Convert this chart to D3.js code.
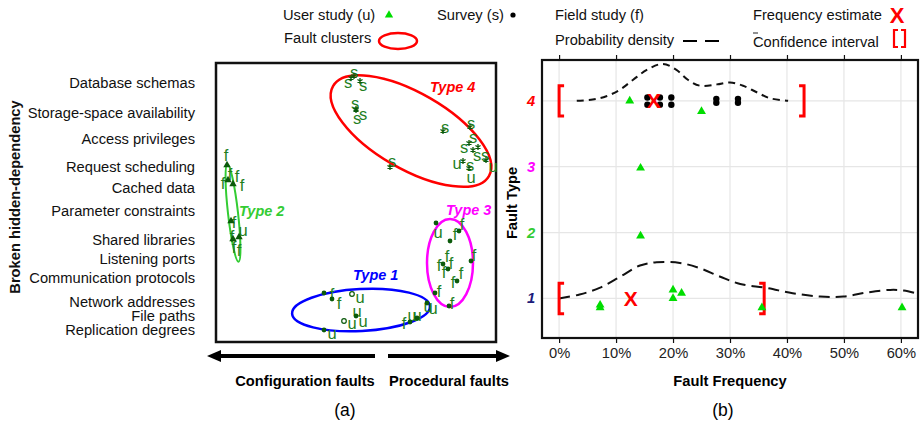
<!DOCTYPE html>
<html><head><meta charset="utf-8">
<script src="https://cdn.jsdelivr.net/npm/d3@7"></script>
<style>body{margin:0;background:#fff}svg{display:block}text{font-family:"Liberation Sans",Arial,sans-serif}</style>
</head><body><svg id="c" width="922" height="433"></svg>
<script>
// ================= DATA : panel (a) =================
const depCategories = ["Database schemas","Storage-space availability","Access privileges","Request scheduling","Cached data","Parameter constraints","Shared libraries","Listening ports","Communication protocols","Network addresses","File paths","Replication degrees"];
const depLevels = [259.3,229.3,203,174.7,153.7,131.3,102,83,63.7,40.3,26,12];

// markers of the fault map (x: configuration -> procedural, y: dependency)
const markerX = [138,135,144,140,140,227,174,254,253,257,262,247,253,270,
                 11,12,17,15,17,23,
                 220,243,234,227,232,255,241,219,233,
                 108,116,136,140,128,108,194,201,211];
const markerY = [266,264,261,232,233,211,175,215,199,192,195,181,174,182,
                 177,162,158,121,103,105,
                 119,111,101,78,73,81,61,49,36,
                 49,43,48,26,21,12,20,24,39];
const markerKind = ["star","star","star","star","star","star","star","star","star","star","star","star","star","star",
                 "tri","tri","tri","tri","tri","tri",
                 "dot","dot","dot","dot","dot","dot","dot","dot","dot",
                 "dot","dot","ring","dot","ring","dot","dot","dot","dot"];
// source letters (s = survey, u = user study, f = field study)
const letterText = ["s","s","s","s","s","s","s","s","s","s","s","s","u","s","u","s","u",
                    "f","f","f","f","f","f","u","f","f","f",
                    "u","f","f","f","f","f","f","f","f","f","f","f",
                    "f","f","u","u","u","u","u","f","u","u","u","u"];
const letterX = [138,132,147,139,141,147,229,176,255,257,248,261,241,254,255,269,277,
                 10,7,14,21,26,18,27,16,18,23,
                 222,246,239,231,223,235,228,258,245,237,223,236,
                 116,123,144,141,147,136,116,188,196,201,212,217];
const letterY = [270,260,257,239,224,228,215,181,219,205,195,187,179,177,165,187,176,
                 187,159,168,166,157,120,112,106,95,92,
                 110,118,108,86,77,79,70,87,69,60,51,39,
                 48,39,45,31,21,19,9,19,27,27,36,34];

// fault clusters
const clusterName = ["Type 4","Type 2","Type 3","Type 1"];
const clusterCX = [195,17,234,145];
const clusterCY = [211,129,79,32];
const clusterRX = [90,5,23,69];
const clusterRY = [38,49,44,21];
const clusterAngle = [30,-6.5,0,-3];
const clusterLabelX = [214,23,230,137];
const clusterLabelY = [255,131,132,67];
const clusterColor = ["#ff0000","#33cc33","#ff00ff","#0000ff"];

// ================= DATA : panel (b) =================
const freqTicks = [0,10,20,30,40,50,60];
const typeTicks = [1,2,3,4];
const typeTickColor = ["#1b1b7a","#33cc33","#ff00ff","#ff0000"];

const userFreq = [12.4,25.0,14.3,14.3,7.2,7.2,20,20,21.5,35.6,60.2];
const userType = [4.0,3.84,2.98,1.95,0.9,0.86,1.13,1.0,1.08,0.86,0.86];
const surveyFreq = [15.5,15.5,17.7,17.7,19.7,19.7,27.6,27.6,31.4,31.4];
const surveyType = [4.05,3.94,4.05,3.94,4.05,3.94,4.03,3.97,4.03,3.97];
const estimateFreq = [16.6,12.6];
const estimateType = [4,1];
const ciType = [4,1];
const ciLow = [0,0];
const ciHigh = [43,36];

const density4Freq = [3.1,5.9,8.3,10.7,13,15.4,18.2,20.6,22.6,24.7,27.7,30,32.3,34.7,37,40.2];
const density4Val  = [4.0,4.02,4.07,4.17,4.32,4.47,4.56,4.47,4.32,4.23,4.25,4.28,4.23,4.13,4.04,4.0];
const density1Freq = [0,3.6,7.1,10.7,14.2,17.1,21.2,24.7,28.3,31.8,36.4,41,45.8,49.9,54,58.1,60.5,63];
const density1Val  = [1.0,1.06,1.16,1.33,1.5,1.55,1.54,1.46,1.33,1.22,1.16,1.08,1.03,1.03,1.09,1.13,1.12,1.07];

// ================= DRAW =================
const svg = d3.select("#c");
svg.append("rect").attr("width",922).attr("height",433).attr("fill","#fff");
const FONT = '"Liberation Sans",Arial,sans-serif';
const FS = 14.7;

// ---------- panel (a)
const xL = d3.scaleLinear().domain([0,280]).range([216,496]);
const yL = d3.scaleLinear().domain([0,280]).range([342,62]);
const gA = svg.append("g");

gA.append("rect").attr("x",xL(0)).attr("y",yL(279)).attr("width",xL(280)-xL(0)).attr("height",yL(0)-yL(279))
  .attr("fill","none").attr("stroke","#111").attr("stroke-width",2.5);

gA.selectAll("text.cat").data(depCategories).join("text")
  .attr("x",195).attr("y",(d,i)=>yL(depLevels[i])).attr("text-anchor","end").attr("dominant-baseline","central")
  .attr("font-size",FS).attr("fill","#111").text(d=>d);

gA.append("text").attr("transform",`translate(15,${yL(145)}) rotate(-90)`).attr("text-anchor","middle")
  .attr("dominant-baseline","central").attr("font-size",FS).attr("font-weight","bold").attr("fill","#111").text("Broken hidden-dependency");

// clusters
clusterName.forEach((n,i)=>{
  const cx=xL(clusterCX[i]), cy=yL(clusterCY[i]);
  gA.append("ellipse").attr("cx",0).attr("cy",0)
    .attr("rx",xL(clusterCX[i]+clusterRX[i])-cx).attr("ry",cy-yL(clusterCY[i]+clusterRY[i]))
    .attr("transform",`translate(${cx},${cy}) rotate(${clusterAngle[i]})`)
    .attr("fill","none").attr("stroke",clusterColor[i]).attr("stroke-width",i===1?2:2.5);
  gA.append("text").attr("x",xL(clusterLabelX[i])).attr("y",yL(clusterLabelY[i])).attr("dominant-baseline","central")
    .attr("font-size",14.5).attr("font-weight","bold").attr("font-style","italic").attr("fill",clusterColor[i]).text(n);
});

// letters
gA.selectAll("text.let").data(letterText).join("text")
  .attr("x",(d,i)=>xL(letterX[i])).attr("y",(d,i)=>yL(letterY[i])).attr("text-anchor","middle")
  .attr("dominant-baseline","central").attr("font-size",16.5).attr("fill","#1f7f1f").text(d=>d);

// markers
const MK = "#0b5a0b";
markerKind.forEach((k,i)=>{
  const x=xL(markerX[i]), y=yL(markerY[i]);
  if(k==="dot") gA.append("circle").attr("cx",x).attr("cy",y).attr("r",2.4).attr("fill",MK);
  else if(k==="ring") gA.append("circle").attr("cx",x).attr("cy",y).attr("r",2.3).attr("fill","none").attr("stroke",MK).attr("stroke-width",1.2);
  else if(k==="tri") gA.append("path").attr("d",d3.symbol(d3.symbolTriangle,24)()).attr("transform",`translate(${x},${y})`).attr("fill",MK);
  else gA.append("path").attr("d",d3.symbol(d3.symbolAsterisk,24)()).attr("transform",`translate(${x},${y})`).attr("fill","none").attr("stroke",MK).attr("stroke-width",1.3);
});

// direction arrows
const arrowY = 356;
function arrow(x1,x2){
  const dir = Math.sign(x2-x1);
  gA.append("line").attr("x1",x1).attr("x2",x2-dir*10).attr("y1",arrowY).attr("y2",arrowY).attr("stroke","#000").attr("stroke-width",4);
  gA.append("path").attr("d",`M${x2},${arrowY} L${x2-dir*14},${arrowY-6} L${x2-dir*14},${arrowY+6} Z`).attr("fill","#000");
}
arrow(375,207); arrow(388,510);
gA.append("text").attr("x",305).attr("y",381).attr("text-anchor","middle").attr("dominant-baseline","central")
  .attr("font-size",FS).attr("font-weight","bold").text("Configuration faults");
gA.append("text").attr("x",449).attr("y",381).attr("text-anchor","middle").attr("dominant-baseline","central")
  .attr("font-size",FS).attr("font-weight","bold").text("Procedural faults");
gA.append("text").attr("x",345).attr("y",410).attr("text-anchor","middle").attr("dominant-baseline","central")
  .attr("font-family",'"Liberation Serif","Times New Roman",serif').attr("font-size",17.5).text("(a)");

// ---------- panel (b)
const xR = d3.scaleLinear().domain([-3,63]).range([542,918]);
const yR = d3.scaleLinear().domain([0.4,4.62]).range([338,60]);
const gB = svg.append("g");
const clipId="clipB";
svg.append("defs").append("clipPath").attr("id",clipId).append("rect")
  .attr("x",xR(-3)).attr("y",yR(4.62)).attr("width",xR(63)-xR(-3)).attr("height",yR(0.4)-yR(4.62));

gB.selectAll("line.vg").data(freqTicks).join("line").attr("x1",d=>xR(d)).attr("x2",d=>xR(d))
  .attr("y1",yR(4.62)).attr("y2",yR(0.4)).attr("stroke","#e6e6e6").attr("stroke-width",1.2);
gB.selectAll("line.hg").data(typeTicks).join("line").attr("y1",d=>yR(d)).attr("y2",d=>yR(d))
  .attr("x1",xR(-3)).attr("x2",xR(63)).attr("stroke","#e6e6e6").attr("stroke-width",1.2);

// axes
const axB = d3.axisBottom(xR).tickValues(freqTicks).tickFormat(d=>d+"%").tickSize(5).tickPadding(5);
const gx = gB.append("g").attr("transform",`translate(0,${yR(0.4)})`).call(axB);
gx.select(".domain").remove();
gx.selectAll("line").attr("stroke","#111").attr("stroke-width",1.2);
gx.selectAll("text").attr("font-size",FS).attr("font-family",FONT).attr("fill","#222");
const axT = d3.axisTop(xR).tickValues(freqTicks).tickFormat("").tickSize(5);
const gt = gB.append("g").attr("transform",`translate(0,${yR(4.62)})`).call(axT);
gt.select(".domain").remove();
gt.selectAll("line").attr("stroke","#111").attr("stroke-width",1.2);

gB.selectAll("text.yt").data(typeTicks).join("text").attr("x",531).attr("y",d=>yR(d)).attr("text-anchor","middle")
  .attr("dominant-baseline","central").attr("font-size",FS).attr("font-weight","bold").attr("font-style","italic")
  .attr("fill",(d,i)=>typeTickColor[i]).text(d=>d);

gB.append("text").attr("transform",`translate(512,${yR(2.45)}) rotate(-90)`).attr("text-anchor","middle")
  .attr("dominant-baseline","central").attr("font-size",FS).attr("font-weight","bold").text("Fault Type");
gB.append("text").attr("x",xR(30)).attr("y",381).attr("text-anchor","middle").attr("dominant-baseline","central")
  .attr("font-size",FS).attr("font-weight","bold").text("Fault Frequency");
gB.append("text").attr("x",723).attr("y",410).attr("text-anchor","middle").attr("dominant-baseline","central")
  .attr("font-family",'"Liberation Serif","Times New Roman",serif').attr("font-size",17.5).text("(b)");

// density curves
const line = d3.line().x(d=>xR(d[0])).y(d=>yR(d[1])).curve(d3.curveCatmullRom);
const plot = gB.append("g").attr("clip-path",`url(#${clipId})`);
plot.append("path").attr("d",line(density4Freq.map((f,i)=>[f,density4Val[i]])))
  .attr("fill","none").attr("stroke","#111").attr("stroke-width",2).attr("stroke-dasharray","7,5");
plot.append("path").attr("d",line(density1Freq.map((f,i)=>[f,density1Val[i]])))
  .attr("fill","none").attr("stroke","#111").attr("stroke-width",2).attr("stroke-dasharray","11,6");

// confidence intervals
ciType.forEach((t,i)=>{
  const y1=yR(t+0.23), y2=yR(t-0.23), w=5;
  const a=xR(ciLow[i]), b=xR(ciHigh[i]);
  plot.append("path").attr("d",`M${a+w},${y1} H${a} V${y2} H${a+w}`).attr("fill","none").attr("stroke","#ff0000").attr("stroke-width",3);
  plot.append("path").attr("d",`M${b-w},${y1} H${b} V${y2} H${b-w}`).attr("fill","none").attr("stroke","#ff0000").attr("stroke-width",3);
});

// survey dots
plot.selectAll("circle.sv").data(surveyFreq).join("circle").attr("cx",d=>xR(d)).attr("cy",(d,i)=>yR(surveyType[i]))
  .attr("r",3.2).attr("fill","#000");
// estimates
plot.selectAll("text.est").data(estimateFreq).join("text").attr("x",d=>xR(d)).attr("y",(d,i)=>yR(estimateType[i]))
  .attr("text-anchor","middle").attr("dominant-baseline","central").attr("font-size",21).attr("font-weight","bold")
  .attr("fill","#ff0000").text("X");
// user-study triangles
plot.selectAll("path.us").data(userFreq).join("path").attr("d",d3.symbol(d3.symbolTriangle,34)())
  .attr("transform",(d,i)=>`translate(${xR(d)},${yR(userType[i])})`).attr("fill","#00dd00");

// frame
gB.append("rect").attr("x",xR(-3)).attr("y",yR(4.62)).attr("width",xR(63)-xR(-3)).attr("height",yR(0.4)-yR(4.62))
  .attr("fill","none").attr("stroke","#111").attr("stroke-width",2.2);

// ---------- legend
const lg = svg.append("g").attr("font-size",FS).attr("fill","#111");
function ltext(x,y,t){ lg.append("text").attr("x",x).attr("y",y).attr("dominant-baseline","central").text(t); }
ltext(283,15,"User study (u)");
lg.append("path").attr("d",d3.symbol(d3.symbolTriangle,30)()).attr("transform","translate(389,15)").attr("fill","#00dd00");
ltext(284,38,"Fault clusters");
lg.append("ellipse").attr("cx",398).attr("cy",41).attr("rx",19).attr("ry",8).attr("fill","none").attr("stroke","#ff0000").attr("stroke-width",2.5);
ltext(437,15,"Survey (s)");
lg.append("circle").attr("cx",513).attr("cy",15).attr("r",2.6).attr("fill","#000");
ltext(555,15,"Field study (f)");
ltext(555,40,"Probability density");
lg.append("line").attr("x1",683).attr("x2",727).attr("y1",41).attr("y2",41).attr("stroke","#000").attr("stroke-width",2).attr("stroke-dasharray","14,8");
ltext(753,15,"Frequency estimate");
lg.append("text").attr("x",897).attr("y",15).attr("text-anchor","middle").attr("dominant-baseline","central")
  .attr("font-size",22).attr("font-weight","bold").attr("fill","#ff0000").text("X");
ltext(753,42,"Confidence interval");
lg.append("line").attr("x1",753).attr("x2",758).attr("y1",33).attr("y2",33).attr("stroke","#222").attr("stroke-width",1);
lg.append("path").attr("d","M898,30 H894 V47 H898 M901,30 H905 V47 H901").attr("fill","none").attr("stroke","#ff0000").attr("stroke-width",2.2);
</script></body></html>
